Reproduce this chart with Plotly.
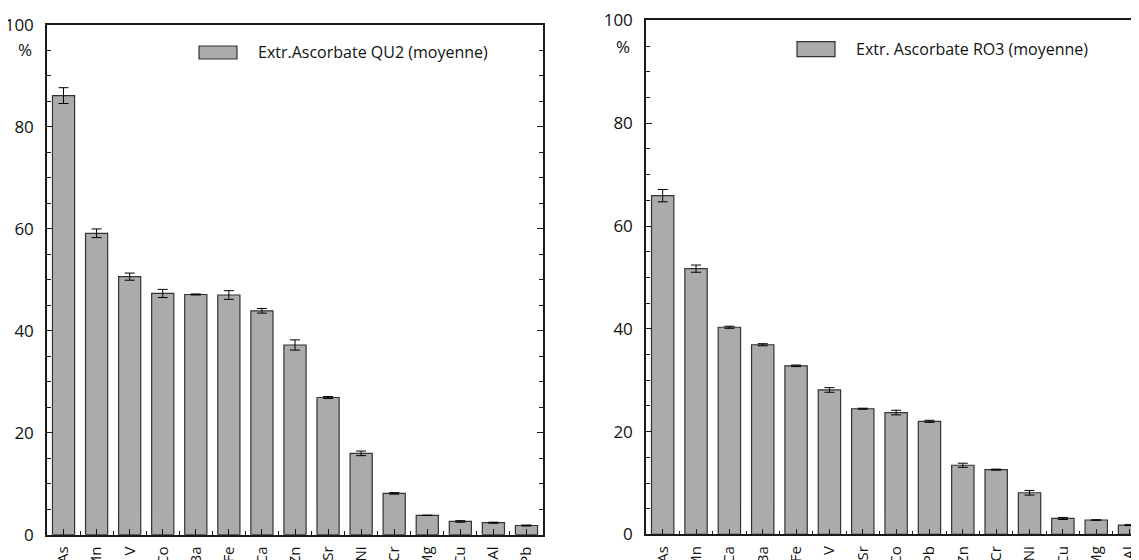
import plotly.graph_objects as go

# ---------------- data ----------------
left_elements = ["As", "Mn", "V", "Co", "Ba", "Fe", "Ca", "Zn", "Sr", "Ni", "Cr", "Mg", "Cu", "Al", "Pb"]
left_values = [86.1, 59.1, 50.6, 47.3, 47.1, 47.0, 43.9, 37.2, 26.9, 15.95, 8.1, 3.8, 2.6, 2.35, 1.8]
left_errors = [1.55, 0.85, 0.7, 0.8, 0.1, 0.85, 0.45, 1.0, 0.2, 0.45, 0.15, 0.0, 0.15, 0.1, 0.1]

right_elements = ["As", "Mn", "Ca", "Ba", "Fe", "V", "Sr", "Co", "Pb", "Zn", "Cr", "Ni", "Cu", "Mg", "Al"]
right_values = [65.9, 51.7, 40.3, 36.9, 32.8, 28.1, 24.45, 23.7, 22.0, 13.45, 12.6, 8.1, 3.1, 2.8, 1.8]
right_errors = [1.2, 0.7, 0.2, 0.2, 0.15, 0.45, 0.1, 0.45, 0.2, 0.4, 0.1, 0.45, 0.2, 0.05, 0.1]

left_label = "Extr.Ascorbate QU2 (moyenne)"
right_label = "Extr. Ascorbate RO3 (moyenne)"
y_ticks = [0, 20, 40, 60, 80, 100]

# ---------------- style / geometry ----------------
PAGE_W, PAGE_H = 1139, 560
BODY = 8                      # default browser body margin
W, H = PAGE_W - BODY, PAGE_H - BODY
FONT = "Open Sans"
BAR = "#ababab"
EDGE = "#333333"
AX = "#1a1a1a"


def px(page_x):
    return (page_x - BODY) / W


def py(page_y):
    return (H - (page_y - BODY)) / H


fig = go.Figure()

fig.add_trace(go.Bar(
    x=list(range(len(left_elements))), y=left_values,
    error_y=dict(type="data", array=left_errors, color="black", thickness=1, width=5),
    marker=dict(color=BAR, line=dict(color=EDGE, width=1.2)),
    width=0.67, xaxis="x", yaxis="y", showlegend=False, name=left_label,
))
fig.add_trace(go.Bar(
    x=list(range(len(right_elements))), y=right_values,
    error_y=dict(type="data", array=right_errors, color="black", thickness=1, width=5),
    marker=dict(color=BAR, line=dict(color=EDGE, width=1.2)),
    width=0.67, xaxis="x2", yaxis="y2", showlegend=False, name=right_label,
))
# empty trace that realises the right-hand tick axis of the right panel
fig.add_trace(go.Scatter(x=[], y=[], xaxis="x2", yaxis="y3", showlegend=False))

xcommon = dict(
    tickmode="array", tickangle=-90, ticks="inside", ticklen=6, tickcolor=AX,
    minor=dict(tick0=0.5, dtick=1, ticks="inside", ticklen=4, tickcolor=AX),
    showline=True, linecolor=AX, linewidth=1.5, mirror=True,
    showgrid=False, zeroline=False, ticklabelstandoff=4, automargin=False,
    tickfont=dict(family=FONT, size=15, color="#111"),
)
ycommon = dict(
    range=[0, 100], tickmode="array", tickvals=y_ticks, ticks="inside", ticklen=6, tickcolor=AX,
    minor=dict(tick0=0, dtick=5, ticks="inside", ticklen=4, tickcolor=AX),
    showline=True, linecolor=AX, linewidth=1.5,
    showgrid=False, zeroline=False, ticklabelstandoff=8, automargin=False,
    tickfont=dict(family=FONT, size=17, color="#111"),
)

fig.update_layout(
    template="none",
    width=W, height=H,
    margin=dict(l=0, r=0, t=0, b=0, pad=0),
    plot_bgcolor="white", paper_bgcolor="white",
    font=dict(family=FONT, color="#111"),
    showlegend=False,
    xaxis=dict(domain=[px(47), px(543)], range=[-0.5, 14.5],
               tickvals=list(range(len(left_elements))), ticktext=left_elements,
               anchor="y", **xcommon),
    yaxis=dict(domain=[py(534.7), py(24.7)], anchor="x", mirror="ticks", **ycommon),
    xaxis2=dict(domain=[px(646), 1.0], range=[-0.5, -0.5 + (PAGE_W - 646) / 33.35],
                tickvals=list(range(len(right_elements))), ticktext=right_elements,
                anchor="y2", **xcommon),
    yaxis2=dict(domain=[py(534.4), py(20.4)], anchor="x2", mirror=False, **ycommon),
    yaxis3=dict(overlaying="y2", anchor="x2", side="right", range=[0, 100],
                tickmode="array", tickvals=y_ticks, ticks="inside", ticklen=3, tickcolor=AX,
                minor=dict(tick0=0, dtick=5, ticks="inside", ticklen=3, tickcolor=AX),
                showline=False, showgrid=False, zeroline=False, showticklabels=False,
                automargin=False),
)

# "%" unit labels
fig.add_annotation(text="%", x=px(34), y=py(49), xref="paper", yref="paper",
                   xanchor="right", yanchor="middle", showarrow=False,
                   font=dict(family=FONT, size=17, color="#111"))
fig.add_annotation(text="%", x=px(632), y=py(46.5), xref="paper", yref="paper",
                   xanchor="right", yanchor="middle", showarrow=False,
                   font=dict(family=FONT, size=17, color="#111"))

# legends (swatch + label)
for (x0, x1, y0, y1, tx, ty, label) in [
    (199, 237, 46, 59, 256, 52.5, left_label),
    (797, 835, 41.7, 56.7, 854, 49, right_label),
]:
    fig.add_shape(type="rect", xref="paper", yref="paper",
                  x0=px(x0), x1=px(x1), y0=py(y1), y1=py(y0),
                  fillcolor=BAR, line=dict(color=EDGE, width=1.2))
    fig.add_annotation(text=label, x=px(tx), y=py(ty), xref="paper", yref="paper",
                       xanchor="left", yanchor="middle", showarrow=False,
                       font=dict(family=FONT, size=16, color="#111"))

fig.write_html("out.html")
